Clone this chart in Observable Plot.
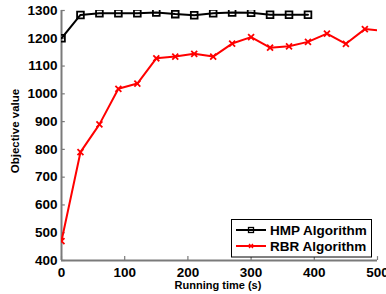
<!DOCTYPE html>
<html>
<head>
<meta charset="utf-8">
<script src="https://cdn.jsdelivr.net/npm/d3@7"></script>
<script src="https://cdn.jsdelivr.net/npm/@observablehq/plot@0.6"></script>
<style>
  html, body { margin: 0; padding: 0; background: #fff; }
  #chart { position: relative; width: 386px; height: 294px; }
  svg { font-family: "Liberation Sans", Arial, sans-serif; }
</style>
</head>
<body>
<div id="chart"></div>
<script>
// Data
const hmpTime  = [0, 30, 60, 90, 120, 150, 180, 210, 240, 270, 300, 330, 360, 390];
const hmpValue = [1200, 1284, 1290, 1290, 1290, 1293, 1287, 1283, 1290, 1293, 1292, 1285, 1285, 1285];
const rbrTime  = [0, 30, 60, 90, 120, 150, 180, 210, 240, 270, 300, 330, 360, 390, 420, 450, 480, 510];
const rbrValue = [470, 790, 890, 1018, 1037, 1128, 1134, 1144, 1134, 1181, 1204, 1166, 1171, 1187, 1217, 1180, 1233, 1226];
const xTicks = [0, 100, 200, 300, 400, 500];
const yTicks = [400, 500, 600, 700, 800, 900, 1000, 1100, 1200, 1300];
const seriesNames = ["HMP Algorithm", "RBR Algorithm"];
const seriesColors = ["#000000", "#ff0000"];
const xLabel = "Running time (s)";
const yLabel = "Objective value";

const hmp = hmpTime.map((t, i) => ({t, v: hmpValue[i]}));
const rbr = rbrTime.map((t, i) => ({t, v: rbrValue[i]}));

const axisGrey = "#7a7a7a";
const chart = Plot.plot({
  width: 386,
  height: 294,
  marginLeft: 61,
  marginRight: 9,
  marginTop: 10,
  marginBottom: 34,
  style: {fontFamily: "Liberation Sans, Arial, sans-serif", fontWeight: "bold", fontSize: "13.5px", color: "#000", background: "#fff"},
  x: {domain: [0, 500]},
  y: {domain: [400, 1300]},
  marks: [
    // axis lines
    Plot.ruleY([400], {stroke: axisGrey, strokeWidth: 2}),
    Plot.ruleX([0], {stroke: axisGrey, strokeWidth: 2}),
    // inward ticks
    Plot.ruleX(xTicks, {y1: 400, y2: 414, stroke: axisGrey, strokeWidth: 1.2}),
    Plot.ruleY(yTicks, {x1: 0, x2: 6, stroke: axisGrey, strokeWidth: 1.2}),
    Plot.axisX({ticks: xTicks, tickSize: 0, tickPadding: 7, label: null, tickFormat: d => String(d), fontWeight: "bold", fontSize: 13.5}),
    Plot.axisY({ticks: yTicks, tickSize: 0, tickPadding: 4, label: null, tickFormat: d => String(d), fontWeight: "bold", fontSize: 13.5}),
    // series
    Plot.line(hmp, {x: "t", y: "v", stroke: seriesColors[0], strokeWidth: 2, clip: true}),
    Plot.dot(hmp, {x: "t", y: "v", symbol: "square", r: 3.8, stroke: seriesColors[0], strokeWidth: 1.8, fill: "none", clip: true}),
    Plot.line(rbr, {x: "t", y: "v", stroke: seriesColors[1], strokeWidth: 2, clip: true}),
    Plot.dot(rbr, {x: "t", y: "v", symbol: "times", r: 2.8, stroke: seriesColors[1], strokeWidth: 1.8, clip: true})
  ]
});
document.getElementById("chart").appendChild(chart);

const svg = d3.select(chart);
// axis titles
svg.append("text")
  .attr("x", 218).attr("y", 289)
  .attr("text-anchor", "middle")
  .attr("font-size", 11).attr("font-weight", "bold")
  .text(xLabel);
svg.append("text")
  .attr("transform", "translate(19,131) rotate(-90)")
  .attr("text-anchor", "middle")
  .attr("font-size", 11.5).attr("font-weight", "bold")
  .text(yLabel);

// legend
const lg = svg.append("g").attr("text-anchor", "start");
lg.append("rect").attr("x", 231.5).attr("y", 219.5).attr("width", 140).attr("height", 37.5)
  .attr("fill", "#fff").attr("stroke", "#000").attr("stroke-width", 1);
const rows = [230, 246];
seriesNames.forEach((name, i) => {
  const y = rows[i];
  lg.append("line").attr("x1", 236).attr("x2", 266).attr("y1", y).attr("y2", y)
    .attr("stroke", seriesColors[i]).attr("stroke-width", 2);
  if (i === 0) {
    lg.append("rect").attr("x", 248.5).attr("y", y - 2.5).attr("width", 5).attr("height", 5)
      .attr("fill", "none").attr("stroke", "#000").attr("stroke-width", 1.3);
  } else {
    lg.append("path").attr("transform", `translate(251,${y})`)
      .attr("d", d3.symbol(d3.symbolTimes, 12)())
      .attr("stroke", seriesColors[i]).attr("stroke-width", 1.4).attr("fill", "none");
  }
  lg.append("text").attr("x", 270).attr("y", y + 5)
    .attr("text-anchor", "start")
    .attr("font-size", 13.5).attr("font-weight", "bold")
    .text(name);
});
</script>
</body>
</html>
